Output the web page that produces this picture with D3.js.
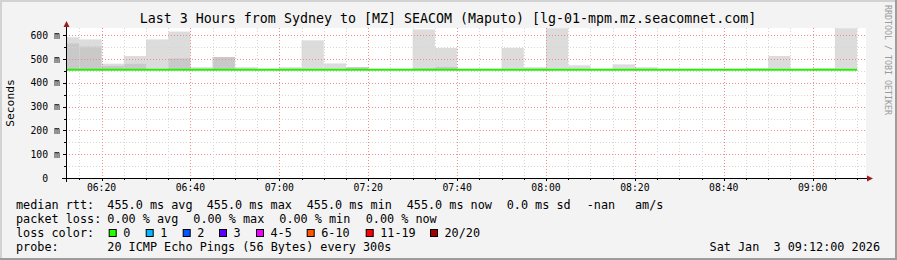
<!DOCTYPE html>
<html><head><meta charset="utf-8">
<script src="https://cdn.jsdelivr.net/npm/d3@7/dist/d3.min.js"></script>
<style>
html,body{margin:0;padding:0;background:#f3f3f3;}
svg text{font-family:"DejaVu Sans Mono",monospace;white-space:pre;}
</style></head>
<body>
<svg id="chart" width="897" height="260" xml:space="preserve"></svg>
<script>
// ---- data ----
const titleText = "Last 3 Hours from Sydney to [MZ] SEACOM (Maputo) [lg-01-mpm.mz.seacomnet.com]";
const stepStarts = ["06:12","06:15","06:20","06:25","06:30","06:35","06:40","06:45","06:50","06:55",
  "07:00","07:05","07:10","07:15","07:20","07:25","07:30","07:35","07:40","07:45",
  "07:50","07:55","08:00","08:05","08:10","08:15","08:20","08:25","08:30","08:35",
  "08:40","08:45","08:50","08:55","09:00","09:05"];
const stepEnds = ["06:15","06:20","06:25","06:30","06:35","06:40","06:45","06:50","06:55","07:00",
  "07:05","07:10","07:15","07:20","07:25","07:30","07:35","07:40","07:45","07:50",
  "07:55","08:00","08:05","08:10","08:15","08:20","08:25","08:30","08:35","08:40",
  "08:45","08:50","08:55","09:00","09:05","09:10"];
const medianRtt = [455,455,455,455,455,455,455,455,455,455,455,455,455,455,455,455,455,455,
  455,455,455,455,455,455,455,455,455,455,455,455,455,455,455,455,455,455];
const smokeMax = [592,583,481,513,583,616,466,509,466,455,466,579,482,466,455,455,625,547,
  455,455,547,466,630,474,455,478,466,455,455,455,455,462,513,455,462,630];
const smokeInner = [566,553,471,480,458,503,455,509,455,455,455,455,455,466,455,455,461,467,
  455,455,455,455,455,455,455,455,455,455,455,455,455,455,455,455,455,455];
const yTicks = [0,100,200,300,400,500,600];
const yTickLabels = ["0  ","100 m","200 m","300 m","400 m","500 m","600 m"];
const xTickLabels = ["06:20","06:40","07:00","07:20","07:40","08:00","08:20","08:40","09:00"];
const legendRow1 = [["median rtt:",16],["455.0 ms avg",107.3],["455.0 ms max",206.7],["455.0 ms min",306.7],["455.0 ms now",406.7],["0.0 ms sd",506.7],["-nan",586.7],["am/s",635]];
const legendRow2 = [["packet loss:",16],["0.00 % avg",107.3],["0.00 % max",193.3],["0.00 % min",279.3],["0.00 % now",365.7]];
const lossLabels = ["0","1","2","3","4-5","6-10","11-19","20/20"];
const lossColors = ["#26ff00","#00b8ff","#0059ff","#5e00ff","#ed00ff","#ff5500","#ff0000","#a10000"];
const lossX = [108.7,145.7,182.7,219,256,306.7,365.7,430];
const probeText = "20 ICMP Echo Pings (56 Bytes) every 300s";
const dateText = "Sat Jan  3 09:12:00 2026";
const domainStart = "06:12", domainEnd = "09:12";

// ---- layout ----
const W = 897, H = 260;
const L = 66, R = 866, T = 28, B = 178;
const parse = s => { const [h,m] = s.split(":").map(Number); return new Date(2026,0,3,h,m,0); };
const x = d3.scaleTime().domain([parse(domainStart), parse(domainEnd)]).range([L, R]);
const y = d3.scaleLinear().domain([0, 631]).range([B, T]);

const svg = d3.select("#chart");
// background + frame
svg.append("rect").attr("width",W).attr("height",H).attr("fill","#f3f3f3");
svg.append("path").attr("d",`M0,0H${W}V2H2V${H}H0Z`).attr("fill","#d2d2d2");
svg.append("path").attr("d",`M${W},${H}H0V${H-2}H${W-2}V0H${W}Z`).attr("fill","#9c9c9c");
// canvas
svg.append("rect").attr("x",L).attr("y",T).attr("width",R-L).attr("height",B-T).attr("fill","#ffffff");

// smoke
const bars = stepStarts.map((s,i)=>({x0:x(parse(s)), x1:x(parse(stepEnds[i])), med:medianRtt[i], mx:smokeMax[i], inner:smokeInner[i]}));
const g = svg.append("g");
g.selectAll(".outer").data(bars.filter(d=>d.mx>d.med)).join("rect")
  .attr("x",d=>d.x0).attr("width",d=>d.x1-d.x0)
  .attr("y",d=>y(d.mx)).attr("height",d=>y(d.med)-y(d.mx)).attr("fill","#dcdcdc");
g.selectAll(".inner").data(bars.filter(d=>d.inner>d.med)).join("rect")
  .attr("x",d=>d.x0).attr("width",d=>d.x1-d.x0)
  .attr("y",d=>y(d.inner)).attr("height",d=>y(d.med)-y(d.inner)).attr("fill","#c9c9c9");

// grid
const grid = svg.append("g").attr("shape-rendering","crispEdges");
const minorY = d3.range(0, 631, 50).filter(v=>v%100!==0);
grid.selectAll(".hmin").data(minorY).join("line")
  .attr("x1",L).attr("x2",R+1).attr("y1",d=>Math.round(y(d))+0.5).attr("y2",d=>Math.round(y(d))+0.5)
  .attr("stroke","#d6d6d6").attr("stroke-dasharray","1,2");
grid.selectAll(".hmaj").data(yTicks.filter(v=>v>0)).join("line")
  .attr("x1",L).attr("x2",R+1).attr("y1",d=>Math.round(y(d))+0.5).attr("y2",d=>Math.round(y(d))+0.5)
  .attr("stroke","#f08c8c").attr("stroke-dasharray","1,2");
const minorX = d3.timeMinute.every(5).range(parse("06:15"), parse(domainEnd)).filter(d=>d.getMinutes()%20!==0);
grid.selectAll(".vmin").data(minorX).join("line")
  .attr("x1",d=>Math.round(x(d))+0.5).attr("x2",d=>Math.round(x(d))+0.5).attr("y1",T).attr("y2",B)
  .attr("stroke","#d6d6d6").attr("stroke-dasharray","1,2");
const majorX = xTickLabels.map(parse);
grid.selectAll(".vmaj").data(majorX).join("line")
  .attr("x1",d=>Math.round(x(d))+0.5).attr("x2",d=>Math.round(x(d))+0.5).attr("y1",T).attr("y2",B)
  .attr("stroke","#f08c8c").attr("stroke-dasharray","1,2");

// median line
const medLine = d3.line().x(d=>d[0]).y(d=>d[1]).curve(d3.curveStepAfter);
const medPts = bars.map(d=>[d.x0, y(d.med)]);
medPts.push([bars[bars.length-1].x1, y(medianRtt[medianRtt.length-1])]);
svg.append("path").attr("d",medLine(medPts)).attr("fill","none").attr("stroke","#22ee00").attr("stroke-width",2);

// axes
const ax = svg.append("g").attr("shape-rendering","crispEdges");
ax.append("line").attr("x1",L-4).attr("x2",R+2).attr("y1",B+0.5).attr("y2",B+0.5).attr("stroke","#000");
ax.append("line").attr("x1",L+0.5).attr("x2",L+0.5).attr("y1",T-2).attr("y2",B+4).attr("stroke","#000");
// y ticks
ax.selectAll(".yt").data(yTicks).join("line")
  .attr("x1",L-3).attr("x2",L).attr("y1",d=>Math.round(y(d))+0.5).attr("y2",d=>Math.round(y(d))+0.5).attr("stroke","#000");
ax.selectAll(".yt2").data(minorY).join("line")
  .attr("x1",L-2).attr("x2",L).attr("y1",d=>Math.round(y(d))+0.5).attr("y2",d=>Math.round(y(d))+0.5).attr("stroke","#000");
// x ticks
ax.selectAll(".xt").data(majorX).join("line")
  .attr("x1",d=>Math.round(x(d))+0.5).attr("x2",d=>Math.round(x(d))+0.5).attr("y1",B).attr("y2",B+3).attr("stroke","#000");
ax.selectAll(".xt2").data(minorX).join("line")
  .attr("x1",d=>Math.round(x(d))+0.5).attr("x2",d=>Math.round(x(d))+0.5).attr("y1",B).attr("y2",B+2).attr("stroke","#000");
// arrows
svg.append("path").attr("d",`M${L-2.5},${T-1}L${L+3.5},${T-1}L${L+0.5},${T-7}Z`).attr("fill","#9b1c1c");
svg.append("path").attr("d",`M${R+1},${B-2.5}L${R+1},${B+3.5}L${R+7},${B+0.5}Z`).attr("fill","#9b1c1c");

// tick labels
svg.selectAll(".ylab").data(yTicks).join("text")
  .attr("x",59.8).attr("y",d=>y(d)+3.5).attr("text-anchor","end")
  .attr("font-size","9.75px").attr("fill","#000").text((d,i)=>yTickLabels[i]);
svg.selectAll(".xlab").data(majorX).join("text")
  .attr("x",d=>x(d)).attr("y",191).attr("text-anchor","middle")
  .attr("font-size","9.75px").attr("fill","#000").text(d=>d3.timeFormat("%H:%M")(d));

// title
svg.append("text").attr("x",448).attr("y",23).attr("text-anchor","middle")
  .attr("font-size","13.3px").attr("fill","#000").text(titleText);
// y label
svg.append("text").attr("transform",`translate(14,${(T+B)/2}) rotate(-90)`).attr("text-anchor","middle")
  .attr("font-size","11.3px").attr("fill","#000").text("Seconds");
// watermark
svg.append("text").attr("transform","translate(884.5,5) rotate(90)").attr("text-anchor","start")
  .attr("font-size","8.3px").attr("fill","#9a9a9a").text("RRDTOOL / TOBI OETIKER");

// legend
const lg = svg.append("g").attr("font-size","11.8px").attr("fill","#000");
const row = (items, yy) => lg.selectAll(null).data(items).join("text")
  .attr("x",d=>d[1]).attr("y",yy).text(d=>d[0]);
row(legendRow1, 208.5);
row(legendRow2, 222.5);
lg.append("text").attr("x",16).attr("y",236.5).text("loss color:");
lg.selectAll(".sw").data(lossLabels).join("rect")
  .attr("x",(d,i)=>lossX[i]+0.5).attr("y",229.5).attr("width",7).attr("height",7)
  .attr("fill",(d,i)=>lossColors[i]).attr("stroke","#000").attr("stroke-width",1);
lg.selectAll(".swt").data(lossLabels).join("text")
  .attr("x",(d,i)=>lossX[i]+14.5).attr("y",236.5).text(d=>d);
lg.append("text").attr("x",16).attr("y",250.5).text("probe:");
lg.append("text").attr("x",107.3).attr("y",250.5).text(probeText);
lg.append("text").attr("x",880).attr("y",250.5).attr("text-anchor","end").text(dateText);
</script>
</body></html>
